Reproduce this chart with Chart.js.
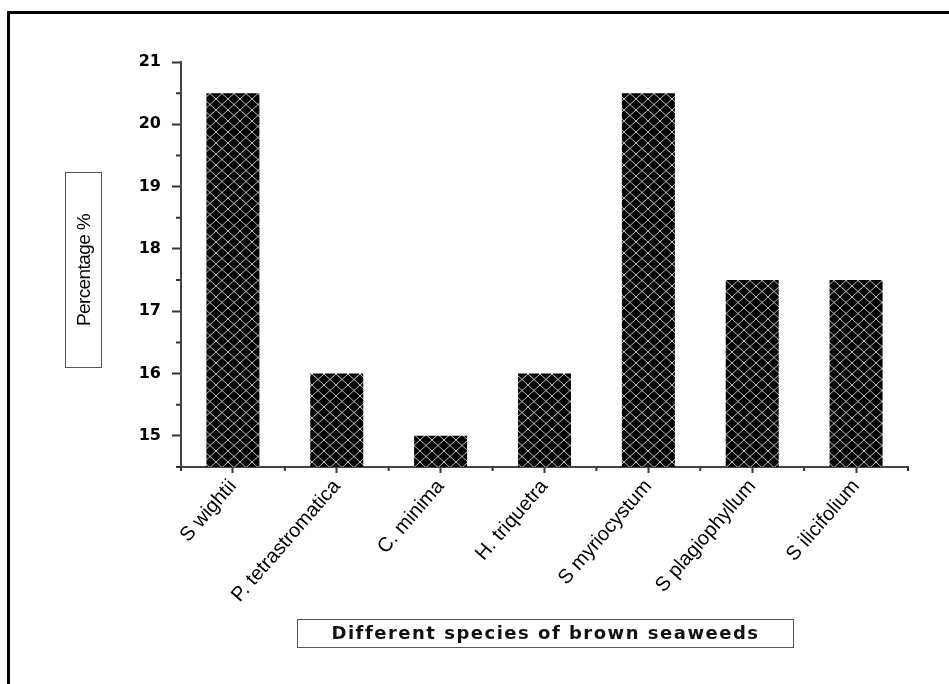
<!DOCTYPE html>
<html>
<head>
<meta charset="utf-8">
<script src="https://cdn.jsdelivr.net/npm/chart.js@4/dist/chart.umd.min.js"></script>
<style>
  html, body { margin: 0; padding: 0; background: #fff; }
  #wrap { position: relative; width: 949px; height: 684px; overflow: hidden; }
  #frame { position: absolute; left: 7px; top: 11px; width: 1000px; height: 800px; border: 3px solid #000; box-sizing: border-box; }
  canvas { position: absolute; left: 0; top: 0; }
  .ybox { position: absolute; left: 65px; top: 172px; width: 37px; height: 196px; border: 1.5px solid #555; box-sizing: border-box; }
  .ybox span { position: absolute; left: 50%; top: 50%; transform: translate(-50%, -50%) rotate(-90deg); white-space: nowrap; font: 19px "Liberation Sans", Arial, sans-serif; letter-spacing: -0.6px; color: #000; }
  .xbox { position: absolute; left: 297px; top: 619px; width: 497px; height: 29px; border: 1.5px solid #555; box-sizing: border-box; text-align: center; font: bold 18px "DejaVu Sans", sans-serif; letter-spacing: 1.5px; line-height: 26px; color: #111; }
</style>
</head>
<body>
<div id="wrap">
  <div id="frame"></div>
  <canvas id="chart" width="949" height="684"></canvas>
  <div class="ybox"><span>Percentage %</span></div>
  <div class="xbox">Different species of brown seaweeds</div>
</div>
<script>
const species = ['S wightii', 'P. tetrastromatica', 'C. minima', 'H. triquetra', 'S myriocystum', 'S plagiophyllum', 'S ilicifolium'];
const percentValues = [20.5, 16, 15, 16, 20.5, 17.5, 17.5];
const yTickValues = [15, 16, 17, 18, 19, 20, 21];

const ctx = document.getElementById('chart').getContext('2d');

function makeHatch() {
    const tile = document.createElement('canvas');
    tile.width = 12;
    tile.height = 11;
    const t = tile.getContext('2d');
    t.fillStyle = '#000';
    t.fillRect(0, 0, 12, 11);
    t.strokeStyle = '#c4c4c4';
    t.lineWidth = 1;
    t.beginPath();
    t.moveTo(0, 0); t.lineTo(12, 11);
    t.moveTo(12, 0); t.lineTo(0, 11);
    t.stroke();
    return ctx.createPattern(tile, 'repeat');
}

// minor ticks: half steps on y, category boundaries on x
const minorTicks = {
    id: 'minorTicks',
    afterDraw(chart) {
        const c = chart.ctx;
        const x = chart.scales.x, y = chart.scales.y;
        c.save();
        c.strokeStyle = '#333';
        c.lineWidth = 2;
        c.beginPath();
        for (let v = 14.5; v <= 21; v += 1) {
            const py = y.getPixelForValue(v);
            c.moveTo(x.left - 5, py); c.lineTo(x.left, py);
        }
        for (let i = 0; i <= species.length; i++) {
            const px = x.getPixelForValue(i - 0.5);
            c.moveTo(px, y.bottom); c.lineTo(px, y.bottom + 4);
        }
        c.stroke();
        c.restore();
    }
};

const chart = new Chart(ctx, {
    type: 'bar',
    data: {
        labels: species,
        datasets: [{
            data: percentValues,
            backgroundColor: makeHatch(),
            borderWidth: 0,
            barPercentage: 0.51,
            categoryPercentage: 1
        }]
    },
    options: {
        responsive: false,
        animation: false,
        layout: { padding: { top: 62, right: 41, left: 0, bottom: 0 } },
        plugins: { legend: { display: false }, tooltip: { enabled: false } },
        scales: {
            x: {
                offset: true,
                grid: { drawOnChartArea: false, offset: false, tickLength: 6, tickWidth: 2, tickColor: '#333' },
                border: { color: '#444', width: 2 },
                ticks: {
                    minRotation: 49, maxRotation: 49, padding: 2,
                    color: '#000',
                    font: { family: '"Liberation Sans", Arial, sans-serif', size: 20 }
                },
                afterFit(s) { s.height = 217; }
            },
            y: {
                min: 14.5,
                max: 21,
                grid: { drawOnChartArea: false, tickLength: 9, tickWidth: 2, tickColor: '#333' },
                border: { color: '#444', width: 2 },
                afterBuildTicks(s) { s.ticks = yTickValues.map(v => ({ value: v })); },
                ticks: {
                    padding: 11,
                    color: '#000',
                    font: { family: '"DejaVu Sans", sans-serif', size: 16, weight: 'bold' }
                },
                afterFit(s) { s.width = 181; }
            }
        }
    },
    plugins: [minorTicks]
});
</script>
</body>
</html>
